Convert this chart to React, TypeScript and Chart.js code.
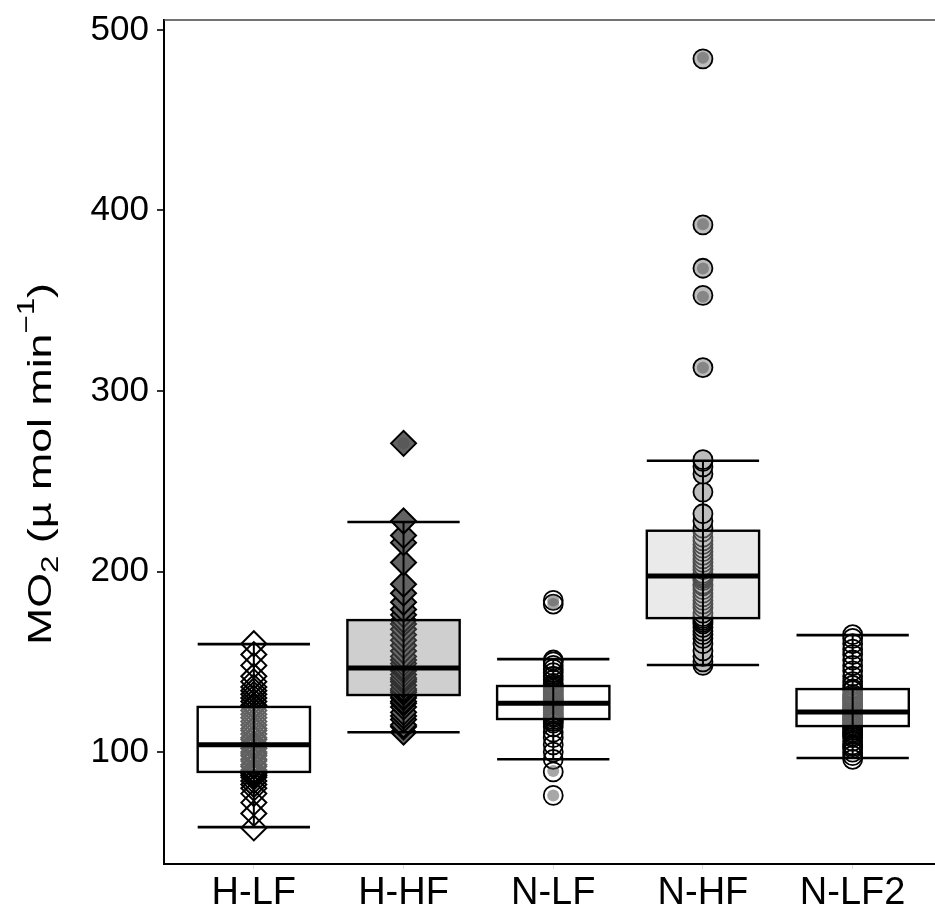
import React, { useEffect, useRef } from 'react';
import { Chart, registerables } from 'chart.js';

Chart.register(...registerables);

const categories = ['H-LF', 'H-HF', 'N-LF', 'N-HF', 'N-LF2'];
const yTicks = [100, 200, 300, 400, 500];

const hlfValues = [58, 66, 72, 77, 80, 82, 84, 86, 87, 88, 89, 90, 92, 93, 95, 96, 98, 99, 100, 102, 103, 104, 104, 105, 107, 108, 110, 112, 113, 115, 117, 119, 121, 123, 125, 126, 128, 130, 132, 134, 136, 139, 142, 148, 154, 160];
const hhfValues = [111, 114, 115, 118, 120, 122, 125, 127, 128, 130, 131, 133, 134, 135, 137, 139, 140, 141, 143, 145, 146, 147, 149, 151, 153, 156, 159, 162, 165, 168, 171, 173, 176, 179, 183, 188, 193, 205, 216, 220, 228, 271];
const nlfValues = [76, 89, 96, 100, 104, 108, 111, 114, 116, 117, 118, 119, 120, 121, 122, 123, 124, 125, 126, 127, 127, 128, 128, 129, 130, 131, 132, 133, 134, 135, 136, 137, 138, 140, 142, 144, 146, 148, 150, 151, 182, 184];
const nhfValues = [148, 150, 153, 156, 160, 163, 165, 167, 169, 171, 172, 173, 174, 175, 177, 180, 182, 184, 186, 188, 190, 192, 193, 195, 196, 197, 198, 199, 201, 203, 205, 207, 209, 211, 213, 215, 217, 219, 222, 224, 228, 232, 244, 254, 258, 261, 262, 313, 353, 368, 392, 484];
const nlf2Values = [96, 98, 100, 102, 103, 104, 106, 108, 109, 110, 111, 112, 113, 114, 115, 116, 117, 118, 118, 119, 120, 121, 122, 122, 123, 124, 125, 126, 127, 128, 129, 130, 131, 132, 134, 135, 137, 139, 142, 145, 148, 151, 154, 157, 160, 163, 165];

const boxQ1 = [89, 131.6, 118.3, 174.2, 114.4];
const boxMedian = [104, 146.5, 127.1, 197.5, 122.2];
const boxQ3 = [125, 173.1, 136.6, 222.6, 134.9];
const whiskerLow = [58.4, 111, 96, 148.2, 96.7];
const whiskerHigh = [159.8, 227.4, 151.5, 261.4, 164.8];
const outlierValues = [[], [271], [184, 182, 89.5, 76], [484.6, 392.3, 367.8, 352.2, 312.9], []];

const groupValues = [hlfValues, hhfValues, nlfValues, nhfValues, nlf2Values];
const pointShapes = ['rectRot', 'rectRot', 'circle', 'circle', 'circle'];
const pointFills = ['rgba(0,0,0,0)', '#636363', 'rgba(0,0,0,0)', '#bdbdbd', 'rgba(0,0,0,0)'];
const pointRadii = [12.5, 12.5, 9.5, 9.5, 9.5];
const pointBorders = [2, 2, 1.8, 1.8, 1.8];
const boxFills = ['rgba(255,255,255,0.38)', 'rgba(130,130,130,0.38)', 'rgba(255,255,255,0.38)', 'rgba(200,200,200,0.38)', 'rgba(255,255,255,0.38)'];

const BOX_HALF = 0.375;
const FONT = '"Liberation Sans", Arial, Helvetica, sans-serif';

const zeroPadding = (s: any) => {
  s.paddingTop = 0;
  s.paddingBottom = 0;
  s.paddingLeft = 0;
  s.paddingRight = 0;
};

const boxPlugin = {
  id: 'boxes',
  afterDatasetsDraw(chart: any) {
    const ctx = chart.ctx;
    const xs = chart.scales.x;
    const ys = chart.scales.y;
    const area = chart.chartArea;
    ctx.save();
    ctx.beginPath();
    ctx.rect(area.left, area.top, area.right - area.left, area.bottom - area.top);
    ctx.clip();
    categories.forEach((_, i) => {
      const c = i + 1;
      const xl = xs.getPixelForValue(c - BOX_HALF);
      const xr = xs.getPixelForValue(c + BOX_HALF);
      const xc = xs.getPixelForValue(c);
      const yq1 = ys.getPixelForValue(boxQ1[i]);
      const yq3 = ys.getPixelForValue(boxQ3[i]);
      const ymed = ys.getPixelForValue(boxMedian[i]);
      const ylo = ys.getPixelForValue(whiskerLow[i]);
      const yhi = ys.getPixelForValue(whiskerHigh[i]);
      ctx.fillStyle = boxFills[i];
      ctx.fillRect(xl, yq3, xr - xl, yq1 - yq3);
      ctx.strokeStyle = '#000';
      ctx.lineWidth = 2.4;
      ctx.strokeRect(xl, yq3, xr - xl, yq1 - yq3);
      ctx.lineWidth = 2;
      ctx.beginPath();
      ctx.moveTo(xc, ylo);
      ctx.lineTo(xc, yhi);
      ctx.stroke();
      ctx.lineWidth = 2.6;
      ctx.beginPath();
      ctx.moveTo(xl, ylo);
      ctx.lineTo(xr, ylo);
      ctx.moveTo(xl, yhi);
      ctx.lineTo(xr, yhi);
      ctx.stroke();
      ctx.lineWidth = 5;
      ctx.beginPath();
      ctx.moveTo(xl, ymed);
      ctx.lineTo(xr, ymed);
      ctx.stroke();
      ctx.fillStyle = 'rgba(80,80,80,0.5)';
      outlierValues[i].forEach((v) => {
        ctx.beginPath();
        ctx.arc(xc, ys.getPixelForValue(v), 6, 0, Math.PI * 2);
        ctx.fill();
      });
    });
    ctx.restore();
  },
  afterDraw(chart: any) {
    const ctx = chart.ctx;
    const area = chart.chartArea;
    ctx.save();
    ctx.strokeStyle = '#444';
    ctx.lineWidth = 1.5;
    ctx.beginPath();
    ctx.moveTo(area.left, area.top);
    ctx.lineTo(area.right, area.top);
    ctx.stroke();
    const size = 34;
    const parts = [
      { t: 'MO', s: 1, dy: 0 },
      { t: '2', s: 0.7, dy: 0.28 },
      { t: ' (\u00b5 mol min', s: 1, dy: 0 },
      { t: '\u22121', s: 0.7, dy: -0.42 },
      { t: ')', s: 1, dy: 0 },
    ];
    let total = 0;
    const widths: number[] = [];
    parts.forEach((p) => {
      ctx.font = `${size * p.s}px ${FONT}`;
      const w = ctx.measureText(p.t).width;
      widths.push(w);
      total += w;
    });
    const target = 362;
    const sx = target / total;
    ctx.translate(42, 464);
    ctx.rotate(-Math.PI / 2);
    ctx.scale(sx, 1);
    ctx.fillStyle = '#000';
    ctx.textBaseline = 'middle';
    ctx.textAlign = 'left';
    let x = -total / 2;
    parts.forEach((p, k) => {
      ctx.font = `${size * p.s}px ${FONT}`;
      ctx.fillText(p.t, x, p.dy * size);
      x += widths[k];
    });
    ctx.restore();
  },
};

export default function App() {
  const ref = useRef<HTMLCanvasElement | null>(null);
  useEffect(() => {
    document.body.style.margin = '0';
    const canvas = ref.current!;
    const datasets = groupValues.map((vals, i) => ({
      label: categories[i],
      data: vals.map((v) => ({ x: i + 1, y: v })),
      pointStyle: pointShapes[i],
      pointRadius: pointRadii[i],
      pointBackgroundColor: pointFills[i],
      pointBorderColor: '#000',
      pointBorderWidth: pointBorders[i],
      showLine: false,
    }));
    const chart = new Chart(canvas, {
      type: 'scatter',
      data: { datasets } as any,
      options: {
        animation: false,
        responsive: false,
        devicePixelRatio: 1,
        layout: { autoPadding: false, padding: { top: 20, right: 0, bottom: 0, left: 0 } },
        plugins: { legend: { display: false }, tooltip: { enabled: false } },
        scales: {
          x: {
            type: 'linear',
            min: 0.4,
            max: 5.55,
            afterBuildTicks: (s: any) => {
              s.ticks = categories.map((_, i) => ({ value: i + 1 }));
            },
            afterFit: (s: any) => {
              s.height = 52;
              zeroPadding(s);
            },
            ticks: {
              callback: (v: any) => categories[Math.round(v) - 1],
              font: { family: FONT, size: 38 },
              color: '#000',
              padding: 2,
              maxRotation: 0,
              autoSkip: false,
            },
            grid: { drawOnChartArea: false, drawTicks: true, tickLength: 5, color: '#dddddd', lineWidth: 1 },
            border: { display: true, color: '#000', width: 2 },
          },
          y: {
            type: 'linear',
            min: 38,
            max: 505.5,
            afterBuildTicks: (s: any) => {
              s.ticks = yTicks.map((v) => ({ value: v }));
            },
            afterFit: (s: any) => {
              s.width = 164;
              zeroPadding(s);
            },
            ticks: {
              font: { family: FONT, size: 35 },
              color: '#000',
              padding: 8,
            },
            grid: { drawOnChartArea: false, drawTicks: true, tickLength: 7, color: '#333', lineWidth: 2 },
            border: { display: true, color: '#000', width: 2 },
          },
        },
      },
      plugins: [boxPlugin],
    } as any);
    return () => chart.destroy();
  }, []);
  return <canvas ref={ref} width={935} height={916} style={{ display: 'block' }} />;
}
